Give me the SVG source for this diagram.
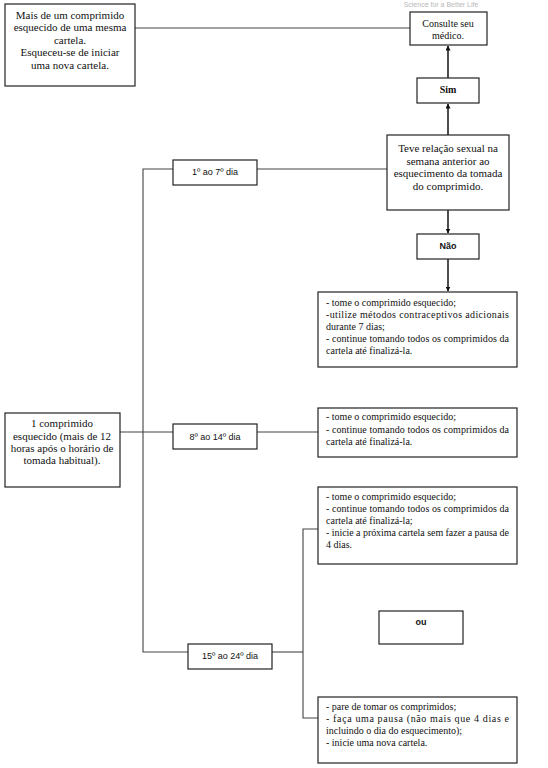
<svg xmlns="http://www.w3.org/2000/svg" width="548" height="768" viewBox="0 0 548 768">
<style>
.box{fill:#fff;stroke:#222;stroke-width:1.2}
.ln{fill:none;stroke:#444;stroke-width:1.1}
.ar{fill:none;stroke:#222;stroke-width:1.6}
.s{font-family:"Liberation Serif","Times New Roman",serif;font-size:11px;fill:#111}
.sm{font-family:"Liberation Serif","Times New Roman",serif;font-size:10px;fill:#111}
.a{font-family:"Liberation Sans",Arial,sans-serif;font-size:9px;fill:#111}
.c{text-anchor:middle}
</style>
<defs>
<marker id="ah" viewBox="0 0 10 10" refX="9" refY="5" markerWidth="5" markerHeight="5" orient="auto" markerUnits="userSpaceOnUse">
<path d="M0,0 L10,5 L0,10 z" fill="#111"/>
</marker>
</defs>
<text x="441" y="7" class="a c" style="fill:#b8b8b8;font-size:7px">Science for a Better Life</text>
<g id="connectors">
<line class="ln" x1="135" y1="28" x2="410" y2="28"/>
<line class="ar" x1="448" y1="78" x2="448" y2="46" marker-end="url(#ah)"/>
<line class="ar" x1="448" y1="135" x2="448" y2="104" marker-end="url(#ah)"/>
<line class="ar" x1="448" y1="210" x2="448" y2="233" marker-end="url(#ah)"/>
<line class="ar" x1="448" y1="259" x2="448" y2="291" marker-end="url(#ah)"/>
<line class="ln" x1="257" y1="169" x2="387" y2="169"/>
<polyline class="ln" points="173,169 143,169 143,652 188,652"/>
<line class="ln" x1="120" y1="432" x2="173" y2="432"/>
<line class="ln" x1="257" y1="432" x2="318" y2="432"/>
<line class="ln" x1="272" y1="652" x2="303" y2="652"/>
<polyline class="ln" points="318,529 303,529 303,718 318,718"/>
</g>
<g id="n-mais">
<rect class="box" x="5" y="4" width="130" height="82"/>
<text class="s c" x="70" y="19">Mais de um comprimido</text>
<text class="s c" x="70" y="31">esquecido de uma mesma</text>
<text class="s c" x="70" y="44">cartela.</text>
<text class="s c" x="70" y="56">Esqueceu-se de iniciar</text>
<text class="s c" x="70" y="69">uma nova cartela.</text>
</g>
<g id="n-consulte">
<rect class="box" x="410" y="12" width="77" height="33"/>
<text class="sm c" x="448" y="27">Consulte seu</text>
<text class="sm c" x="448" y="39">médico.</text>
</g>
<g id="n-sim">
<rect class="box" x="417" y="78" width="62" height="25"/>
<text class="sm c" x="448" y="93" font-weight="bold">Sim</text>
</g>
<g id="n-teve">
<rect class="box" x="387" y="135" width="122" height="75"/>
<text class="s c" x="448" y="152">Teve relação sexual na</text>
<text class="s c" x="448" y="165">semana anterior ao</text>
<text class="s c" x="448" y="177">esquecimento da tomada</text>
<text class="s c" x="448" y="190">do comprimido.</text>
</g>
<g id="n-d1">
<rect class="box" x="173" y="160" width="84" height="25"/>
<text class="a c" x="215" y="175">1º ao 7º dia</text>
</g>
<g id="n-nao">
<rect class="box" x="417" y="234" width="62" height="25"/>
<text class="a c" x="448" y="249" font-weight="bold">Não</text>
</g>
<g id="n-act1">
<rect class="box" x="318" y="292" width="199" height="75"/>
<text class="sm" x="326" y="306">- tome o comprimido esquecido;</text>
<text class="sm" x="326" y="318" textLength="183" lengthAdjust="spacing">-utilize métodos contraceptivos adicionais</text>
<text class="sm" x="326" y="330">durante 7 dias;</text>
<text class="sm" x="326" y="342" textLength="183" lengthAdjust="spacing">- continue tomando todos os comprimidos da</text>
<text class="sm" x="326" y="354">cartela até finalizá-la.</text>
</g>
<g id="n-um">
<rect class="box" x="5" y="413" width="115" height="74"/>
<text class="s c" x="62" y="427">1 comprimido</text>
<text class="s c" x="62" y="440">esquecido (mais de 12</text>
<text class="s c" x="62" y="452">horas após o horário de</text>
<text class="s c" x="62" y="464">tomada habitual).</text>
</g>
<g id="n-d8">
<rect class="box" x="173" y="424" width="84" height="25"/>
<text class="a c" x="215" y="440">8º ao 14º dia</text>
</g>
<g id="n-act2">
<rect class="box" x="318" y="408" width="199" height="49"/>
<text class="sm" x="326" y="420">- tome o comprimido esquecido;</text>
<text class="sm" x="326" y="433" textLength="183" lengthAdjust="spacing">- continue tomando todos os comprimidos da</text>
<text class="sm" x="326" y="445">cartela até finalizá-la.</text>
</g>
<g id="n-act3">
<rect class="box" x="318" y="487" width="199" height="77"/>
<text class="sm" x="326" y="500">- tome o comprimido esquecido;</text>
<text class="sm" x="326" y="512" textLength="183" lengthAdjust="spacing">- continue tomando todos os comprimidos da</text>
<text class="sm" x="326" y="524">cartela até finalizá-la;</text>
<text class="sm" x="326" y="536" textLength="183" lengthAdjust="spacing">- inicie a próxima cartela sem fazer a pausa de</text>
<text class="sm" x="326" y="548">4 dias.</text>
</g>
<g id="n-ou">
<rect class="box" x="379" y="611" width="84" height="33"/>
<text class="a c" x="421" y="625" font-weight="bold">ou</text>
</g>
<g id="n-d15">
<rect class="box" x="188" y="644" width="84" height="25"/>
<text class="a c" x="230" y="659">15º ao 24º dia</text>
</g>
<g id="n-act4">
<rect class="box" x="318" y="697" width="199" height="66"/>
<text class="sm" x="326" y="710">- pare de tomar os comprimidos;</text>
<text class="sm" x="326" y="722" textLength="183" lengthAdjust="spacing">- faça uma pausa (não mais que 4 dias e</text>
<text class="sm" x="326" y="734">incluindo o dia do esquecimento);</text>
<text class="sm" x="326" y="746">- inicie uma nova cartela.</text>
</g>
</svg>
